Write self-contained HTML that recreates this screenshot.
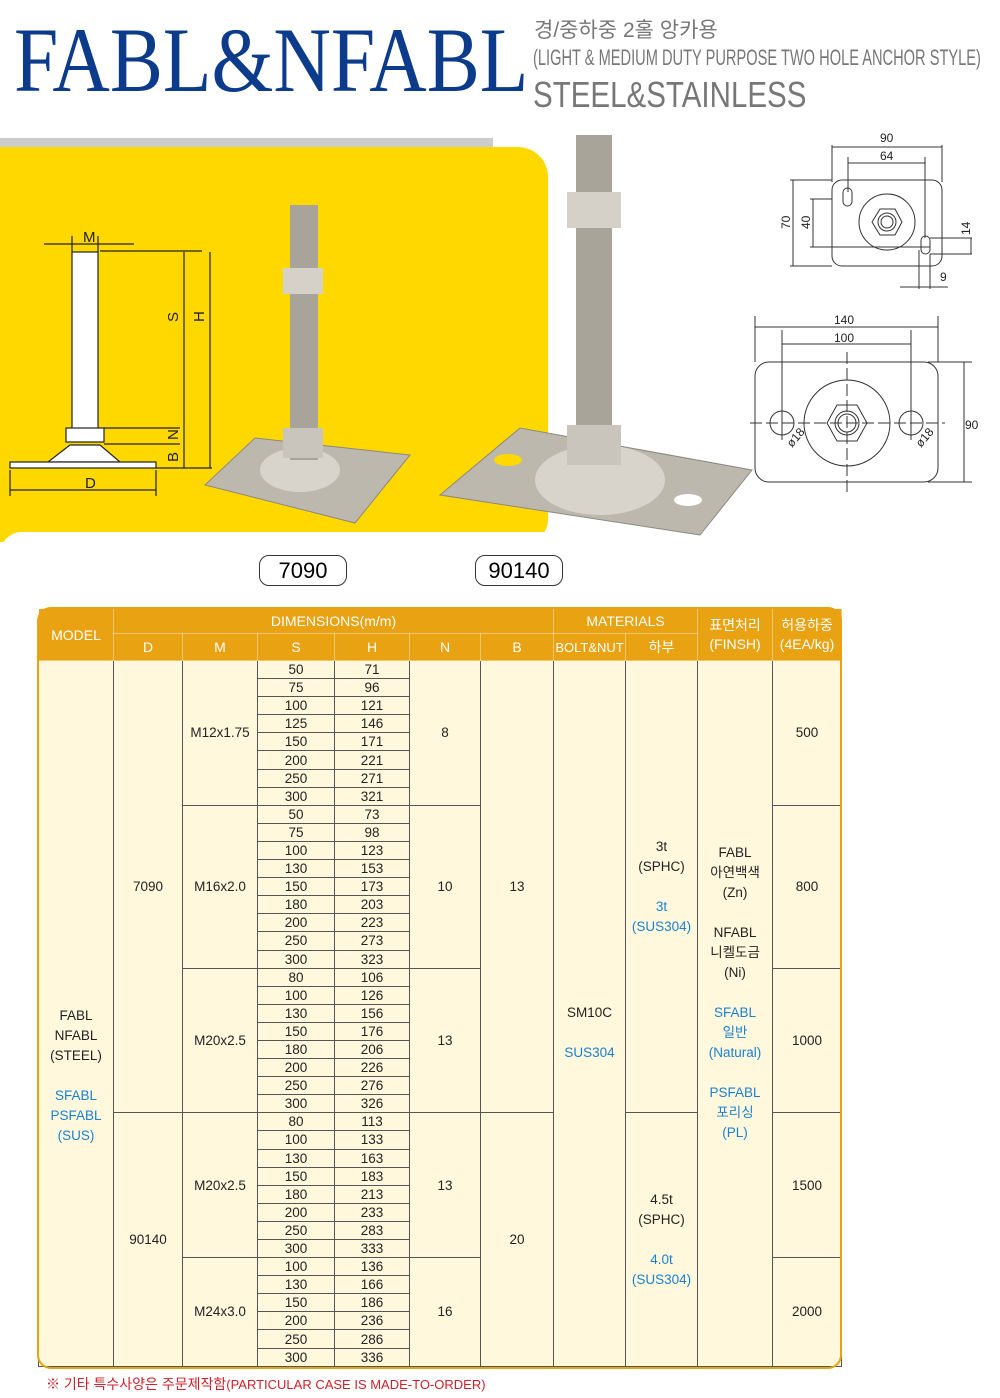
<!DOCTYPE html>
<html><head><meta charset="utf-8"><style>
body{margin:0;width:1000px;height:1398px;position:relative;background:#fff;font-family:"Liberation Sans","Noto Sans CJK KR",sans-serif;overflow:hidden}
.a{position:absolute;white-space:nowrap}
table{position:absolute;left:38px;top:608px;width:803px;border-collapse:collapse;table-layout:fixed;font-size:13.5px;color:#222}
td{border:1px solid #555;text-align:center;padding:0;line-height:15px;background:#fff8dc}
tr.d td{height:17.1px}
th{background:#e9a212;color:#fff;font-weight:normal;border:1px solid #fff6;font-size:14px;padding:0}
.b{color:#1a7fd0}
.tag{position:absolute;border:1.5px solid #333;border-radius:10px;font-size:22px;text-align:center;line-height:29px;height:29px;background:#fff}
</style></head><body>
<div class="a" style="left:14px;top:10px;font-family:'Liberation Serif',serif;font-size:92px;color:#0d3b8c;transform:scaleX(0.865);transform-origin:0 0;line-height:100px">FABL&amp;NFABL</div>
<div class="a" style="left:534px;top:14px;font-size:21px;color:#777">경/중하중 2홀 앙카용</div>
<div class="a" style="left:533px;top:45px;font-size:22px;color:#777;transform:scaleX(0.665);transform-origin:0 0">(LIGHT &amp; MEDIUM DUTY PURPOSE TWO HOLE ANCHOR STYLE)</div>
<div class="a" style="left:533px;top:74px;font-size:36px;color:#777;transform:scaleX(0.82);transform-origin:0 0">STEEL&amp;STAINLESS</div>
<div class="a" style="left:0;top:138px;width:493px;height:9px;background:#ccc"></div>
<div class="a" style="left:0;top:147px;width:548px;height:395px;background:#ffd800;border-radius:0 30px 22px 0"></div>
<div class="a" style="left:0;top:532px;width:560px;height:80px;background:#fff;border-radius:22px 0 0 0"></div>
<svg class="a" style="left:0;top:0" width="1000" height="600">
<g stroke="#222" fill="none" stroke-width="1.2">
<rect x="72" y="252" width="26" height="178" fill="#fff"/>
<rect x="66" y="428" width="38" height="14" fill="#fff"/>
<path d="M70 445 L100 445 L120 462 L48 462 Z" fill="#fff"/>
<rect x="10" y="462" width="146" height="6" fill="#fff"/>
<line x1="44" y1="244" x2="134" y2="244"/><line x1="72" y1="236" x2="72" y2="252"/><line x1="98" y1="236" x2="98" y2="252"/>
<line x1="100" y1="251" x2="202" y2="251"/>
<line x1="184" y1="252" x2="184" y2="468"/><line x1="210" y1="252" x2="210" y2="468"/>
<line x1="104" y1="428" x2="180" y2="428"/><line x1="104" y1="444" x2="180" y2="444"/>
<line x1="156" y1="468" x2="212" y2="468"/>
<line x1="10" y1="470" x2="10" y2="496"/><line x1="156" y1="470" x2="156" y2="496"/><line x1="10" y1="490" x2="156" y2="490"/>
</g>
<g font-size="15" fill="#222"><text x="83" y="242">M</text><text x="85" y="488">D</text>
<text x="178" y="322" transform="rotate(-90 178 322)">S</text><text x="204" y="322" transform="rotate(-90 204 322)">H</text>
<text x="178" y="440" transform="rotate(-90 178 440)">N</text><text x="178" y="462" transform="rotate(-90 178 462)">B</text></g>
<path d="M205 485 L255 438 L410 455 L355 523 Z" fill="#bdb8ad" stroke="#8d887e"/>
<ellipse cx="300" cy="470" rx="40" ry="22" fill="#d8d4cc"/>
<rect x="290" y="205" width="28" height="255" fill="#a9a49a"/>
<rect x="283" y="268" width="40" height="26" fill="#d5d1c8"/>
<rect x="283" y="428" width="40" height="30" fill="#c9c5bc"/>
<path d="M440 495 L520 428 L752 470 L700 535 Z" fill="#bdb8ad" stroke="#8d887e"/>
<ellipse cx="600" cy="480" rx="65" ry="35" fill="#d8d4cc"/>
<ellipse cx="508" cy="460" rx="14" ry="6" fill="#ffd800"/><ellipse cx="688" cy="500" rx="14" ry="6" fill="#fff"/>
<rect x="576" y="135" width="36" height="330" fill="#a9a49a"/>
<rect x="567" y="192" width="54" height="36" fill="#d5d1c8"/>
<rect x="567" y="425" width="54" height="40" fill="#c9c5bc"/>
<g stroke="#333" fill="none" stroke-width="1">
<rect x="832" y="180" width="110" height="86" rx="10"/>
<circle cx="887" cy="222" r="28"/><polygon points="872,222 880,209 895,209 902,222 895,235 880,235"/><circle cx="887" cy="222" r="9"/><circle cx="887" cy="222" r="6"/>
<rect x="843" y="188" width="9" height="18" rx="4.5"/><rect x="921" y="236" width="9" height="18" rx="4.5"/>
<line x1="832" y1="145" x2="832" y2="182"/><line x1="942" y1="145" x2="942" y2="182"/><line x1="832" y1="147" x2="942" y2="147"/>
<line x1="848" y1="157" x2="848" y2="192"/><line x1="925" y1="157" x2="925" y2="238"/><line x1="848" y1="163" x2="925" y2="163"/>
<line x1="790" y1="180" x2="832" y2="180"/><line x1="790" y1="266" x2="832" y2="266"/><line x1="793" y1="180" x2="793" y2="266"/>
<line x1="810" y1="199" x2="832" y2="199"/><line x1="810" y1="247" x2="930" y2="247"/><line x1="813" y1="199" x2="813" y2="247"/>
<line x1="930" y1="238" x2="972" y2="238"/><line x1="930" y1="254" x2="972" y2="254"/><line x1="971" y1="238" x2="971" y2="254"/>
<line x1="919" y1="250" x2="919" y2="289"/><line x1="930" y1="254" x2="930" y2="289"/><line x1="900" y1="287" x2="948" y2="287"/>
<rect x="755" y="362" width="183" height="120" rx="14"/>
<circle cx="847" cy="423" r="43"/><polygon points="827,423 837,405 857,405 867,423 857,441 837,441"/><circle cx="847" cy="423" r="12"/><circle cx="847" cy="423" r="9"/>
<circle cx="782" cy="423" r="12"/><circle cx="911" cy="423" r="12"/>
<line x1="750" y1="423" x2="945" y2="423" stroke-dasharray="12 4"/><line x1="847" y1="352" x2="847" y2="492" stroke-dasharray="12 4"/>
<line x1="755" y1="316" x2="755" y2="362"/><line x1="938" y1="316" x2="938" y2="362"/><line x1="755" y1="327" x2="938" y2="327"/>
<line x1="782" y1="330" x2="782" y2="440"/><line x1="911" y1="330" x2="911" y2="440"/><line x1="782" y1="344" x2="911" y2="344"/>
<line x1="928" y1="362" x2="972" y2="362"/><line x1="928" y1="482" x2="972" y2="482"/><line x1="964" y1="362" x2="964" y2="482"/>
</g>
<g font-size="12" fill="#222"><text x="880" y="142">90</text><text x="880" y="160">64</text><text x="834" y="324">140</text><text x="834" y="342">100</text><text x="965" y="429">90</text><text x="940" y="281">9</text>
<text x="790" y="229" transform="rotate(-90 790 229)">70</text><text x="810" y="229" transform="rotate(-90 810 229)">40</text><text x="970" y="235" transform="rotate(-90 970 235)">14</text>
<text x="792" y="448" transform="rotate(-50 792 448)">ø18</text><text x="921" y="448" transform="rotate(-50 921 448)">ø18</text></g>
</svg>
<div class="tag" style="left:259px;top:555px;width:86px">7090</div>
<div class="tag" style="left:475px;top:555px;width:86px">90140</div>
<div class="a" style="left:38px;top:608px;width:803px;height:760px;border-radius:14px;background:#e9a212"></div>
<table>
<colgroup><col style="width:75px"><col style="width:69px"><col style="width:75px"><col style="width:77px"><col style="width:75px"><col style="width:71px"><col style="width:73px"><col style="width:72px"><col style="width:72px"><col style="width:75px"><col style="width:69px"></colgroup>
<tr style="height:25px"><th rowspan="2">MODEL</th><th colspan="6">DIMENSIONS(m/m)</th><th colspan="2">MATERIALS</th><th rowspan="2" style="font-size:14px;line-height:19px">표면처리<br>(FINSH)</th><th rowspan="2" style="line-height:19px">허용하중<br>(4EA/kg)</th></tr>
<tr style="height:27px"><th>D</th><th>M</th><th>S</th><th>H</th><th>N</th><th>B</th><th style="font-size:13px">BOLT&amp;NUT</th><th>하부</th></tr>
<tr class="d"><td rowspan="39" style="line-height:20px;padding-top:125px">FABL<br>NFABL<br>(STEEL)<br><br><span class="b">SFABL<br>PSFABL<br>(SUS)</span></td><td rowspan="25">7090</td><td rowspan="8">M12x1.75</td><td>50</td><td>71</td><td rowspan="8">8</td><td rowspan="25">13</td><td rowspan="39" style="line-height:40px;padding-top:40px">SM10C<br><span class="b">SUS304</span></td><td rowspan="25" style="line-height:20px">3t<br>(SPHC)<br><br><span class="b">3t<br>(SUS304)</span></td><td rowspan="39" style="line-height:20px;padding-bottom:40px">FABL<br>아연백색<br>(Zn)<br><br>NFABL<br>니켈도금<br>(Ni)<br><br><span class="b">SFABL<br>일반<br>(Natural)<br><br>PSFABL<br>포리싱<br>(PL)</span></td><td rowspan="8">500</td></tr>
<tr class="d"><td>75</td><td>96</td></tr><tr class="d"><td>100</td><td>121</td></tr><tr class="d"><td>125</td><td>146</td></tr><tr class="d"><td>150</td><td>171</td></tr><tr class="d"><td>200</td><td>221</td></tr><tr class="d"><td>250</td><td>271</td></tr><tr class="d"><td>300</td><td>321</td></tr>
<tr class="d"><td rowspan="9">M16x2.0</td><td>50</td><td>73</td><td rowspan="9">10</td><td rowspan="9">800</td></tr>
<tr class="d"><td>75</td><td>98</td></tr><tr class="d"><td>100</td><td>123</td></tr><tr class="d"><td>130</td><td>153</td></tr><tr class="d"><td>150</td><td>173</td></tr><tr class="d"><td>180</td><td>203</td></tr><tr class="d"><td>200</td><td>223</td></tr><tr class="d"><td>250</td><td>273</td></tr><tr class="d"><td>300</td><td>323</td></tr>
<tr class="d"><td rowspan="8">M20x2.5</td><td>80</td><td>106</td><td rowspan="8">13</td><td rowspan="8">1000</td></tr>
<tr class="d"><td>100</td><td>126</td></tr><tr class="d"><td>130</td><td>156</td></tr><tr class="d"><td>150</td><td>176</td></tr><tr class="d"><td>180</td><td>206</td></tr><tr class="d"><td>200</td><td>226</td></tr><tr class="d"><td>250</td><td>276</td></tr><tr class="d"><td>300</td><td>326</td></tr>
<tr class="d"><td rowspan="14">90140</td><td rowspan="8">M20x2.5</td><td>80</td><td>113</td><td rowspan="8">13</td><td rowspan="14">20</td><td rowspan="14" style="line-height:20px">4.5t<br>(SPHC)<br><br><span class="b">4.0t<br>(SUS304)</span></td><td rowspan="8">1500</td></tr>
<tr class="d"><td>100</td><td>133</td></tr><tr class="d"><td>130</td><td>163</td></tr><tr class="d"><td>150</td><td>183</td></tr><tr class="d"><td>180</td><td>213</td></tr><tr class="d"><td>200</td><td>233</td></tr><tr class="d"><td>250</td><td>283</td></tr><tr class="d"><td>300</td><td>333</td></tr>
<tr class="d"><td rowspan="6">M24x3.0</td><td>100</td><td>136</td><td rowspan="6">16</td><td rowspan="6">2000</td></tr>
<tr class="d"><td>130</td><td>166</td></tr><tr class="d"><td>150</td><td>186</td></tr><tr class="d"><td>200</td><td>236</td></tr><tr class="d"><td>250</td><td>286</td></tr><tr class="d"><td>300</td><td>336</td></tr>
</table>
<div class="a" style="left:37px;top:607px;width:801px;height:758px;border:2px solid #e9a212;border-radius:14px"></div>
<div class="a" style="left:46px;top:1374px;font-size:14px;color:#d0202a">※ 기타 특수사양은 주문제작함<span style="font-size:13px">(PARTICULAR CASE IS MADE-TO-ORDER)</span></div>
</body></html>
